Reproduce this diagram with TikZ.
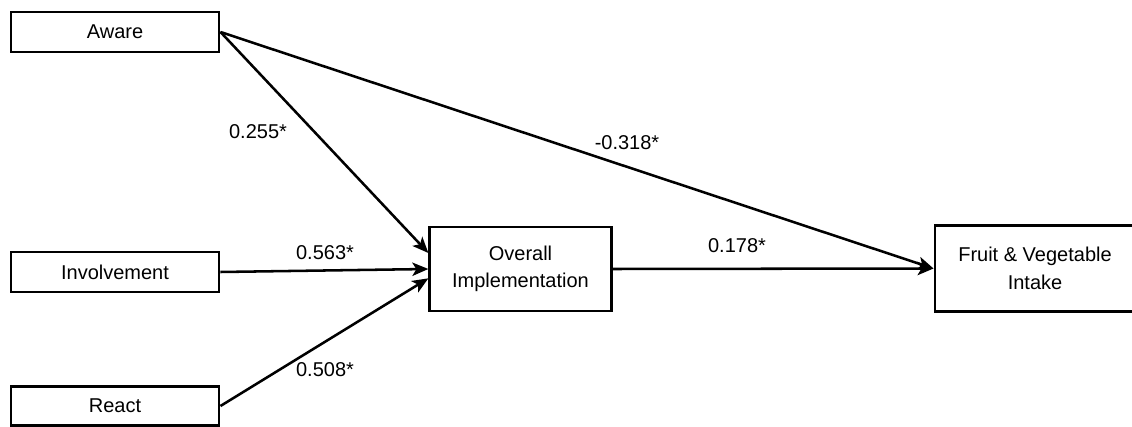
\documentclass[tikz,border=0pt]{standalone}
\usepackage{fontspec}
\setmainfont{Liberation Sans}
\usetikzlibrary{arrows.meta}

\tikzset{
  varbox/.style={draw, line width=2.2pt, fill=white, inner sep=0pt, align=center, font=\fontsize{15}{20.5}\selectfont},
  path/.style={line width=1.9pt, -{Stealth[length=12pt, width=10pt, inset=3pt]}},
  coef/.style={font=\fontsize{15}{18}\selectfont}
}

\begin{document}
\begin{tikzpicture}[x=0.75pt, y=-0.75pt]
\useasboundingbox (0,0) rectangle (1132,427);
\clip (0,0) rectangle (1132,427);

\node [varbox, minimum width=156pt, minimum height=30pt] (aware) at (115,32) {Aware};
\node [varbox, minimum width=156pt, minimum height=30pt] (involve) at (115,272) {Involvement};
\node [varbox, minimum width=156pt, minimum height=29pt] (react) at (115,406) {React};
\node [varbox, minimum width=136pt, minimum height=63pt] (overall) at (520.5,269) {Overall\\Implementation};
\node [varbox, minimum width=150pt, minimum height=64pt] (intake) at (1035,268.5) {Fruit \& Vegetable\\Intake};

\draw [path] (aware.east) -- ([yshift=12pt]overall.west);
\draw [path] (aware.east) -- (intake.west);
\draw [path] (involve.east) -- (overall.west);
\draw [path] (react.east) -- ([yshift=-7pt]overall.west);
\draw [path] (overall.east) -- (intake.west);

\node [coef] (c1) at (258,132) {0.255*};
\node [coef] (c2) at (627,143) {-0.318*};
\node [coef] (c3) at (325,253) {0.563*};
\node [coef] (c4) at (737,246) {0.178*};
\node [coef] (c5) at (325,370) {0.508*};

\end{tikzpicture}
\end{document}
